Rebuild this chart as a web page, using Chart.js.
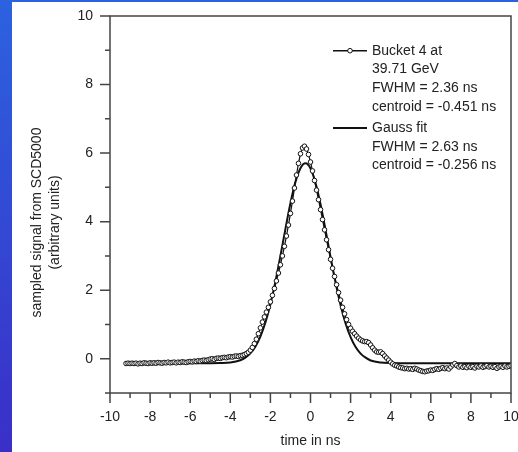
<!DOCTYPE html>
<html lang="en">
<head>
<meta charset="UTF-8" />
<title>Bucket 4 longitudinal profile</title>
<script src="https://cdn.jsdelivr.net/npm/chart.js"></script>
<style>
  html, body {
    margin: 0;
    padding: 0;
  }
  body {
    width: 518px;
    height: 452px;
    position: relative;
    overflow: hidden;
    background: linear-gradient(#2c62df, #3a2fc7);
  }
  #panel {
    position: absolute;
    left: 12px;
    top: 2px;
    width: 506px;
    height: 450px;
    background: #fff;
  }
</style>
</head>
<body>

<div id="panel"><canvas id="pulseChart" width="506" height="450"></canvas></div>

<script>
  // sample times (ns) of the SCD5000 trace
  const times = [
    -9.2,-9.1,-9.0,-8.9,-8.8,-8.7,-8.6,-8.5,-8.4,-8.3,
    -8.2,-8.1,-8.0,-7.9,-7.8,-7.7,-7.6,-7.5,-7.4,-7.3,
    -7.2,-7.1,-7.0,-6.9,-6.8,-6.7,-6.6,-6.5,-6.4,-6.3,
    -6.2,-6.1,-6.0,-5.9,-5.8,-5.7,-5.6,-5.5,-5.4,-5.3,
    -5.2,-5.1,-5.0,-4.9,-4.8,-4.7,-4.6,-4.5,-4.4,-4.3,
    -4.2,-4.1,-4.0,-3.9,-3.8,-3.7,-3.6,-3.5,-3.4,-3.3,
    -3.2,-3.1,-3.0,-2.9,-2.8,-2.7,-2.6,-2.5,-2.4,-2.3,
    -2.2,-2.1,-2.0,-1.9,-1.8,-1.7,-1.6,-1.5,-1.4,-1.3,
    -1.2,-1.1,-1.0,-0.9,-0.8,-0.7,-0.6,-0.5,-0.4,-0.3,
    -0.2,-0.1,0.0,0.1,0.2,0.3,0.4,0.5,0.6,0.7,
    0.8,0.9,1.0,1.1,1.2,1.3,1.4,1.5,1.6,1.7,
    1.8,1.9,2.0,2.1,2.2,2.3,2.4,2.5,2.6,2.7,
    2.8,2.9,3.0,3.1,3.2,3.3,3.4,3.5,3.6,3.7,
    3.8,3.9,4.0,4.1,4.2,4.3,4.4,4.5,4.6,4.7,
    4.8,4.9,5.0,5.1,5.2,5.3,5.4,5.5,5.6,5.7,
    5.8,5.9,6.0,6.1,6.2,6.3,6.4,6.5,6.6,6.7,
    6.8,6.9,7.0,7.1,7.2,7.3,7.4,7.5,7.6,7.7,
    7.8,7.9,8.0,8.1,8.2,8.3,8.4,8.5,8.6,8.7,
    8.8,8.9,9.0,9.1,9.2,9.3,9.4,9.5,9.6,9.7,
    9.8,9.9,10.0
  ];

  // measured signal, bucket 4 at 39.71 GeV
  const signal = [
    -0.14,-0.13,-0.14,-0.13,-0.14,-0.13,-0.15,-0.13,-0.14,-0.12,
    -0.13,-0.14,-0.12,-0.13,-0.12,-0.13,-0.11,-0.12,-0.13,-0.11,
    -0.12,-0.10,-0.12,-0.11,-0.10,-0.12,-0.10,-0.11,-0.09,-0.10,
    -0.11,-0.09,-0.08,-0.09,-0.07,-0.08,-0.06,-0.07,-0.05,-0.04,
    -0.05,-0.03,-0.01,0.00,-0.02,0.01,0.02,0.01,0.03,0.04,
    0.03,0.05,0.06,0.05,0.07,0.08,0.07,0.09,0.10,0.12,
    0.15,0.19,0.25,0.33,0.44,0.57,0.73,0.90,1.07,1.22,
    1.36,1.50,1.66,1.85,2.05,2.27,2.50,2.74,3.00,3.28,
    3.58,3.90,4.24,4.60,4.98,5.36,5.70,5.98,6.15,6.20,
    6.12,5.96,5.74,5.48,5.20,4.92,4.64,4.35,4.06,3.76,
    3.47,3.18,2.90,2.64,2.40,2.16,1.93,1.71,1.50,1.31,
    1.14,1.00,0.89,0.80,0.73,0.66,0.60,0.55,0.52,0.50,
    0.50,0.47,0.40,0.32,0.25,0.20,0.19,0.20,0.15,0.08,
    0.02,-0.04,-0.10,-0.15,-0.19,-0.21,-0.24,-0.26,-0.27,-0.29,
    -0.28,-0.30,-0.29,-0.31,-0.28,-0.30,-0.33,-0.35,-0.37,-0.38,
    -0.36,-0.35,-0.33,-0.34,-0.31,-0.29,-0.31,-0.28,-0.26,-0.29,
    -0.27,-0.30,-0.24,-0.18,-0.14,-0.20,-0.24,-0.21,-0.25,-0.23,
    -0.26,-0.22,-0.25,-0.23,-0.27,-0.22,-0.24,-0.21,-0.25,-0.23,
    -0.20,-0.24,-0.22,-0.25,-0.23,-0.28,-0.24,-0.22,-0.25,-0.21,
    -0.24,-0.22,-0.20
  ];

  // gauss fit curve
  const fitTimes = [
    -9.2,-6,-5,-4.5,-4,-3.5,-3.25,-3,-2.75,-2.5,
    -2.25,-2,-1.75,-1.5,-1.25,-1,-0.75,-0.5,-0.25,0,
    0.25,0.5,0.75,1,1.25,1.5,1.75,2,2.25,2.5,
    2.75,3,3.5,4,4.5,6,10
  ];
  const fitValues = [
    -0.13,-0.13,-0.13,-0.126,-0.11,-0.044,0.03,0.155,0.35,0.645,
    1.055,1.59,2.25,3.0,3.79,4.54,5.16,5.56,5.70,5.55,
    5.13,4.51,3.76,2.97,2.22,1.56,1.03,0.63,0.34,0.15,
    0.03,-0.05,-0.11,-0.126,-0.13,-0.13,-0.13
  ];

  const xTicks = [-10, -8, -6, -4, -2, 0, 2, 4, 6, 8, 10];
  const yTicks = [0, 2, 4, 6, 8, 10];

  const bucketLegend = ['Bucket 4 at', '39.71 GeV', 'FWHM = 2.36 ns', 'centroid = -0.451 ns'];
  const fitLegend = ['Gauss fit', 'FWHM = 2.63 ns', 'centroid = -0.256 ns'];
  const yTitle = ['sampled signal from SCD5000', '(arbitrary units)'];

  const ink = '#222';
  const frameColor = '#444';
  Chart.defaults.font.family = '"Liberation Sans", Arial, sans-serif';
  Chart.defaults.font.size = 14;
  Chart.defaults.color = ink;

  // box round the plot, major and minor tick marks, y title, legend
  const decorations = {
    id: 'decorations',
    afterDraw(chart) {
      const { ctx, chartArea: a, scales: { x, y } } = chart;
      ctx.save();
      ctx.strokeStyle = frameColor;
      ctx.lineWidth = 1.5;
      ctx.strokeRect(a.left, a.top, a.right - a.left, a.bottom - a.top);
      ctx.beginPath();
      for (let v = -10; v <= 10; v++) {
        const px = x.getPixelForValue(v);
        ctx.moveTo(px, a.bottom);
        ctx.lineTo(px, a.bottom + (v % 2 === 0 ? 10 : 5));
      }
      for (let v = -1; v <= 10; v++) {
        const py = y.getPixelForValue(v);
        ctx.moveTo(a.left, py);
        ctx.lineTo(a.left - (v % 2 === 0 ? 10 : 5), py);
      }
      ctx.stroke();

      ctx.fillStyle = ink;
      ctx.font = '14px "Liberation Sans", Arial, sans-serif';
      ctx.textBaseline = 'middle';

      // y axis title, two lines
      ctx.save();
      ctx.translate(25.5, 220.5);
      ctx.rotate(-Math.PI / 2);
      ctx.textAlign = 'center';
      ctx.fillText(yTitle[0], 0, 0);
      ctx.fillText(yTitle[1], 0, 17.5);
      ctx.restore();

      // legend
      ctx.textAlign = 'left';
      ctx.strokeStyle = '#111';
      ctx.lineWidth = 1.5;
      let ly = 48.7;
      ctx.beginPath();
      ctx.moveTo(321, ly);
      ctx.lineTo(355, ly);
      ctx.stroke();
      ctx.beginPath();
      ctx.arc(338, ly, 2.3, 0, Math.PI * 2);
      ctx.fillStyle = '#fff';
      ctx.fill();
      ctx.lineWidth = 1;
      ctx.stroke();
      ctx.fillStyle = ink;
      bucketLegend.forEach((t, i) => ctx.fillText(t, 360, ly + i * 18.7));

      ly = 126;
      ctx.lineWidth = 2;
      ctx.beginPath();
      ctx.moveTo(321, ly);
      ctx.lineTo(355, ly);
      ctx.stroke();
      fitLegend.forEach((t, i) => ctx.fillText(t, 360, ly + i * 18.7));
      ctx.restore();
    }
  };

  const ctx = document.getElementById('pulseChart').getContext('2d');

  const pulseChart = new Chart(ctx, {
    type: 'line',
    data: {
      datasets: [
        {
          label: 'Bucket 4 at 39.71 GeV',
          data: times.map((t, i) => ({ x: t, y: signal[i] })),
          borderColor: '#111',
          borderWidth: 1.2,
          pointRadius: 2.3,
          pointBorderWidth: 1,
          pointBorderColor: '#111',
          pointBackgroundColor: '#fff',
          tension: 0
        },
        {
          label: 'Gauss fit',
          data: fitTimes.map((t, i) => ({ x: t, y: fitValues[i] })),
          borderColor: '#111',
          borderWidth: 2,
          pointRadius: 0,
          cubicInterpolationMode: 'monotone'
        }
      ]
    },
    options: {
      responsive: false,
      animation: false,
      layout: { padding: { left: 0, right: 7, top: 14, bottom: 0 } },
      plugins: {
        legend: { display: false },
        tooltip: { enabled: false }
      },
      scales: {
        x: {
          type: 'linear',
          min: -10,
          max: 10,
          border: { display: false },
          grid: { drawOnChartArea: false, tickLength: 10, tickColor: 'rgba(0,0,0,0)' },
          ticks: { padding: 6, color: ink, maxRotation: 0 },
          afterBuildTicks: s => { s.ticks = xTicks.map(v => ({ value: v })); },
          afterFit: s => { s.height = 59; s.paddingLeft = 0; s.paddingRight = 0; },
          title: { display: true, text: 'time in ns', color: ink, padding: { top: 0, bottom: 2 } }
        },
        y: {
          min: -1,
          max: 10,
          border: { display: false },
          grid: { drawOnChartArea: false, tickLength: 10, tickColor: 'rgba(0,0,0,0)' },
          ticks: { padding: 7, color: ink },
          afterBuildTicks: s => { s.ticks = yTicks.map(v => ({ value: v })); },
          afterFit: s => { s.width = 98; s.paddingTop = 0; s.paddingBottom = 0; }
        }
      }
    },
    plugins: [decorations]
  });
</script>

</body>
</html>
